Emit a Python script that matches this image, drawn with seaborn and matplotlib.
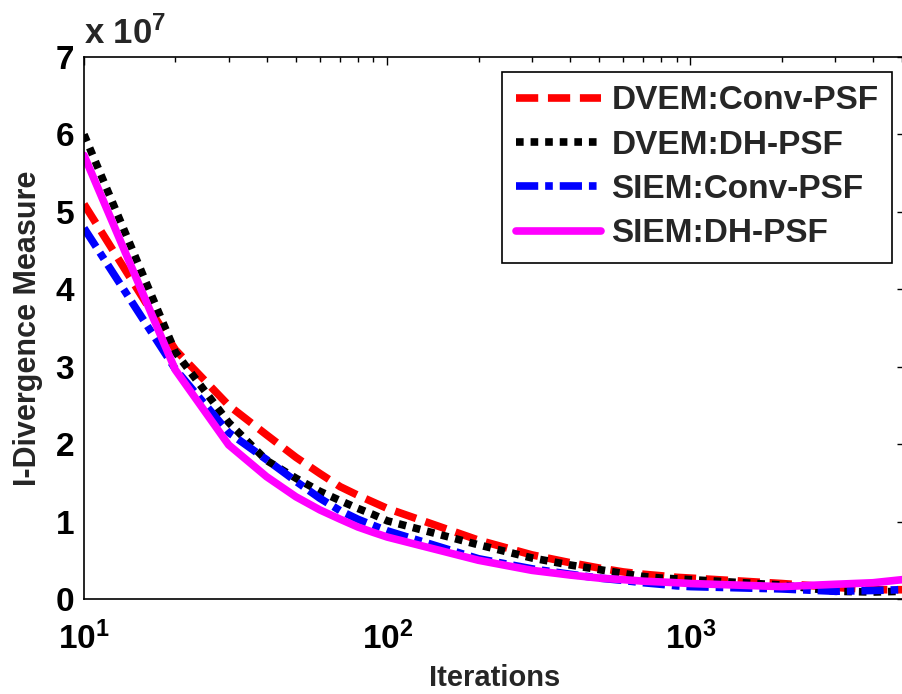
import matplotlib
matplotlib.use("Agg")
import matplotlib.pyplot as plt
import matplotlib.ticker as mticker
import numpy as np
import pandas as pd
import seaborn as sns

# Iteration counts and I-divergence values (in units of 1e7)
iterations = [10, 20, 30, 40, 50, 60, 70, 80, 90, 100,
              200, 300, 400, 500, 600, 700, 800, 900, 1000,
              2000, 3000, 4000, 5000]
dvem_conv = [5.10, 3.22, 2.50, 2.12, 1.83, 1.62, 1.45, 1.34, 1.25, 1.17,
             0.76, 0.57, 0.47, 0.40, 0.35, 0.32, 0.30, 0.28, 0.27,
             0.20, 0.15, 0.12, 0.12]
dvem_dh = [6.00, 3.19, 2.28, 1.79, 1.56, 1.39, 1.27, 1.17, 1.09, 1.01,
           0.70, 0.53, 0.44, 0.38, 0.33, 0.29, 0.27, 0.26, 0.25,
           0.18, 0.10, 0.09, 0.10]
siem_conv = [4.79, 2.97, 2.15, 1.80, 1.52, 1.30, 1.14, 1.03, 0.95, 0.88,
             0.52, 0.39, 0.32, 0.27, 0.24, 0.21, 0.19, 0.17, 0.16,
             0.13, 0.10, 0.11, 0.12]
siem_dh = [5.73, 2.96, 1.99, 1.58, 1.32, 1.15, 1.03, 0.93, 0.86, 0.80,
           0.50, 0.37, 0.31, 0.27, 0.25, 0.23, 0.22, 0.21, 0.20,
           0.16, 0.19, 0.21, 0.25]

series_names = ["DVEM:Conv-PSF", "DVEM:DH-PSF", "SIEM:Conv-PSF", "SIEM:DH-PSF"]
series_values = [dvem_conv, dvem_dh, siem_conv, siem_dh]
y_ticks = [0, 1, 2, 3, 4, 5, 6, 7]

frames = [pd.DataFrame({"Iterations": iterations, "Divergence": vals, "Method": name})
          for name, vals in zip(series_names, series_values)]
df = pd.concat(frames, ignore_index=True)

sns.set_style("white")
plt.rcParams["font.family"] = ["Liberation Sans", "DejaVu Sans"]
plt.rcParams["font.weight"] = "bold"
plt.rcParams["mathtext.fontset"] = "custom"
plt.rcParams["mathtext.rm"] = "Liberation Sans:bold"
plt.rcParams["mathtext.bf"] = "Liberation Sans:bold"
plt.rcParams["mathtext.default"] = "bf"
plt.rcParams["lines.scale_dashes"] = False

palette = {"DVEM:Conv-PSF": "#ff0000", "DVEM:DH-PSF": "#000000",
           "SIEM:Conv-PSF": "#0000ff", "SIEM:DH-PSF": "#ff00ff"}
dashes = {"DVEM:Conv-PSF": (16, 7), "DVEM:DH-PSF": (5.5, 5),
          "SIEM:Conv-PSF": (16, 5, 5.5, 5), "SIEM:DH-PSF": ""}

fig = plt.figure(figsize=(9.03, 6.94), dpi=100)
ax = fig.add_axes([84 / 903, (694 - 599) / 694, (905 - 84) / 903, (599 - 57) / 694])

sns.lineplot(data=df, x="Iterations", y="Divergence", hue="Method", style="Method",
             palette=palette, dashes=dashes, hue_order=series_names,
             style_order=series_names, estimator=None, linewidth=5.5,
             legend=False, ax=ax)

ax.set_xscale("log")
ax.set_xlim(10, 5100)
ax.set_ylim(0, 7)
ax.set_yticks(y_ticks)
ax.xaxis.set_major_locator(mticker.LogLocator(base=10, numticks=10))
ax.xaxis.set_minor_locator(mticker.LogLocator(base=10, subs=np.arange(2, 10), numticks=20))
ax.xaxis.set_minor_formatter(mticker.NullFormatter())

ax.tick_params(axis="both", which="both", direction="in", top=True, right=True,
               colors="black")
ax.tick_params(axis="both", which="major", length=6, width=1, labelsize=24)
ax.tick_params(axis="both", which="minor", length=3.5, width=1)
ax.tick_params(axis="x", which="major", pad=16)
ax.tick_params(axis="y", which="major", pad=7)
for lab in ax.get_xticklabels() + ax.get_yticklabels():
    lab.set_fontweight("bold")

for side in ["left", "right", "top", "bottom"]:
    ax.spines[side].set_visible(True)
    ax.spines[side].set_color("black")
    ax.spines[side].set_linewidth(1.2)

ax.set_xlabel("Iterations", fontsize=21, fontweight="bold", labelpad=6)
ax.set_ylabel("I-Divergence Measure", fontsize=22, fontweight="bold", labelpad=9)

ax.text(0.0, 1.012, r"x $10^{7}$", transform=ax.transAxes, ha="left", va="bottom",
        fontsize=25, fontweight="bold")

handles = ax.get_lines()[:4]
leg = ax.legend(handles, series_names, loc="upper right",
                bbox_to_anchor=((892 - 84) / (905 - 84), (599 - 72) / (599 - 57)),
                fontsize=24, frameon=True, fancybox=False, shadow=False,
                handlelength=2.55, handletextpad=0.33, labelspacing=0.40,
                borderpad=0.4, borderaxespad=0.0)
leg.get_frame().set_edgecolor("black")
leg.get_frame().set_linewidth(1.2)
leg.get_frame().set_alpha(1)
for t in leg.get_texts():
    t.set_fontweight("bold")

fig.savefig("out.png", dpi=100, facecolor="white")
